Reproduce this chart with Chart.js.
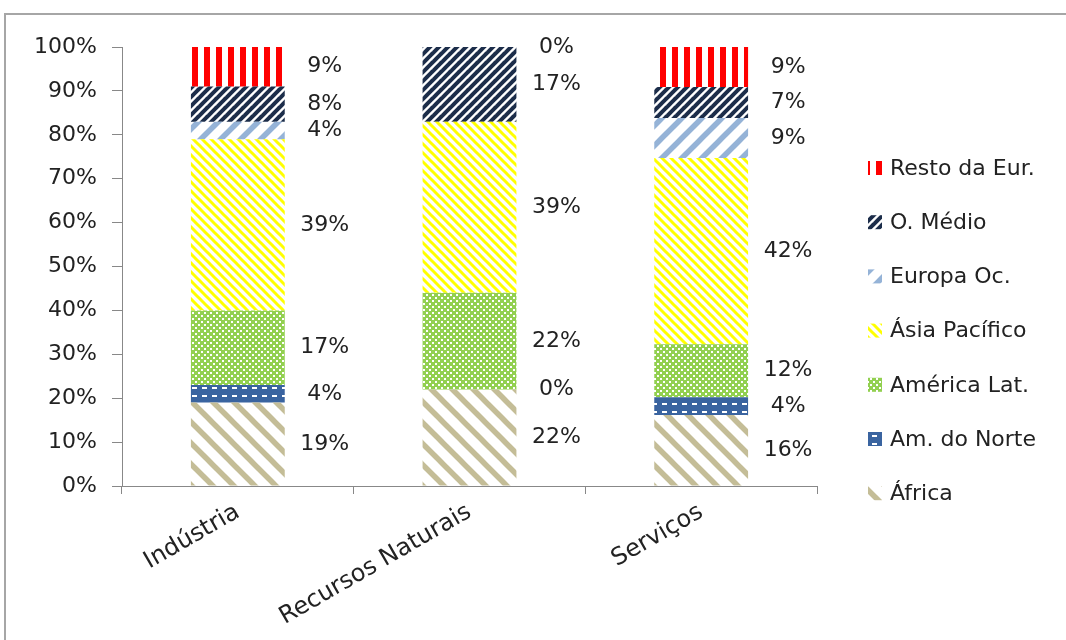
<!DOCTYPE html>
<html>
<head>
<meta charset="utf-8">
<script src="https://cdn.jsdelivr.net/npm/chart.js@4"></script>
<style>
  html, body { margin: 0; padding: 0; background: #fff; }
  #wrap { width: 1066px; height: 640px; position: relative; }
</style>
</head>
<body>
<div id="wrap"><canvas id="c" width="1066" height="640"></canvas></div>
<script>
// ---- Data ----
const categories = ['Indústria', 'Recursos Naturais', 'Serviços'];
const seriesNames = ['África', 'Am. do Norte', 'América Lat.', 'Ásia Pacífico', 'Europa Oc.', 'O. Médio', 'Resto da Eur.'];
const africa       = [19, 22, 16.2];
const amNorte      = [4, 0, 4.0];
const americaLat   = [17, 22, 12.1];
const asiaPacifico = [39, 39, 42.4];
const europaOc     = [4, null, 9.1];
const oMedio       = [8, 17, 7.1];
const restoEur     = [9, 0, 9.1];
const yTicks = [0, 10, 20, 30, 40, 50, 60, 70, 80, 90, 100];

// ---- Patterns ----
function tile(w, h, draw) {
  const c = document.createElement('canvas');
  c.width = w; c.height = h;
  const g = c.getContext('2d');
  draw(g, w, h);
  return g.createPattern(c, 'repeat');
}
function diag(color, size, lw, dir) {
  return tile(size, size, (g, w, h) => {
    g.strokeStyle = color; g.lineWidth = lw; g.lineCap = 'square';
    for (let k = -1; k <= 1; k++) {
      g.beginPath();
      if (dir === '\\') { g.moveTo(k * size, 0); g.lineTo(k * size + size, size); }
      else { g.moveTo(k * size, size); g.lineTo(k * size + size, 0); }
      g.stroke();
    }
  });
}
const patAfrica = diag('#C4BD97', 21, 5.5, '\\');
const patAmNorte = tile(10, 8, (g, w, h) => {
  g.fillStyle = '#3A64A0'; g.fillRect(0, 0, w, h);
  g.fillStyle = '#ffffff'; g.fillRect(2, 3, 5, 2);
});
const patAmLat = tile(6, 6, (g, w, h) => {
  g.fillStyle = '#92D050'; g.fillRect(0, 0, w, h);
  g.fillStyle = '#ffffff'; g.fillRect(0, 0, 2, 2); g.fillRect(3, 3, 2, 2);
});
const patAsia = diag('#FFFF00', 9, 3, '\\');
const patEuropa = diag('#95B3D7', 20, 5.5, '/');
const patOMedio = diag('#1C2D4A', 9, 4, '/');
const patResto = tile(12, 12, (g, w, h) => {
  g.fillStyle = '#FF0000'; g.fillRect(0, 0, 6, h);
});

const seriesValues = [africa, amNorte, americaLat, asiaPacifico, europaOc, oMedio, restoEur];
const seriesFills = [patAfrica, patAmNorte, patAmLat, patAsia, patEuropa, patOMedio, patResto];

const FONT = "'DejaVu Sans', sans-serif";
const TXT = '#222222';
const AXIS = '#888888';

const frame = {
  id: 'frame',
  beforeDraw(chart) {
    const ctx = chart.ctx;
    ctx.save();
    ctx.fillStyle = '#fff';
    ctx.fillRect(0, 0, chart.width, chart.height);
    ctx.strokeStyle = '#A6A6A6';
    ctx.lineWidth = 2;
    ctx.strokeRect(5, 14, 1200, 800);
    ctx.restore();
  }
};

const valueLabels = {
  id: 'valueLabels',
  afterDatasetsDraw(chart) {
    const ctx = chart.ctx;
    ctx.save();
    ctx.font = '22px ' + FONT;
    ctx.fillStyle = TXT;
    ctx.textAlign = 'center';
    ctx.textBaseline = 'middle';
    chart.data.datasets.forEach((ds, i) => {
      const meta = chart.getDatasetMeta(i);
      meta.data.forEach((el, j) => {
        const v = ds.data[j];
        if (v === null || v === undefined) return;
        const p = el.getProps(['x', 'y', 'base', 'width'], true);
        ctx.fillText(Math.round(v) + '%', p.x + p.width / 2 + 40, (p.y + p.base) / 2);
      });
    });
    ctx.restore();
  }
};

const customLegend = {
  id: 'customLegend',
  afterDraw(chart) {
    const ctx = chart.ctx;
    ctx.save();
    ctx.font = '22px ' + FONT;
    ctx.textBaseline = 'middle';
    ctx.textAlign = 'left';
    const ds = chart.data.datasets.slice().reverse();
    ds.forEach((d, k) => {
      const cy = 168 + k * 54.2;
      ctx.fillStyle = d.backgroundColor;
      ctx.fillRect(868, cy - 7, 14, 14);
      ctx.fillStyle = TXT;
      ctx.fillText(d.label, 890, cy + 1);
    });
    ctx.restore();
  }
};

new Chart(document.getElementById('c'), {
  type: 'bar',
  data: {
    labels: categories,
    datasets: seriesNames.map((n, i) => ({
      label: n,
      data: seriesValues[i],
      backgroundColor: seriesFills[i],
      borderWidth: 0,
      barPercentage: 0.405,
      categoryPercentage: 1.0
    }))
  },
  options: {
    responsive: false,
    animation: false,
    devicePixelRatio: 1,
    layout: { padding: { left: 0, top: 47, right: 249, bottom: 0 } },
    plugins: { legend: { display: false }, tooltip: { enabled: false } },
    scales: {
      x: {
        stacked: true,
        afterFit(s) { s.height = 154; },
        grid: { offset: true, drawOnChartArea: false, drawTicks: true, tickLength: 8, color: AXIS },
        border: { color: AXIS, width: 1 },
        ticks: { color: TXT, font: { family: FONT, size: 24 }, minRotation: 30, maxRotation: 30, padding: 4 }
      },
      y: {
        stacked: true,
        min: 0, max: 100,
        afterFit(s) { s.width = 122; },
        afterBuildTicks(s) { s.ticks = yTicks.map(v => ({ value: v })); },
        grid: { drawOnChartArea: false, drawTicks: true, tickLength: 10, color: AXIS },
        border: { color: AXIS, width: 1 },
        ticks: { color: TXT, font: { family: FONT, size: 22 }, padding: 15, callback: v => v + '%' }
      }
    }
  },
  plugins: [frame, valueLabels, customLegend]
});
</script>
</body>
</html>
